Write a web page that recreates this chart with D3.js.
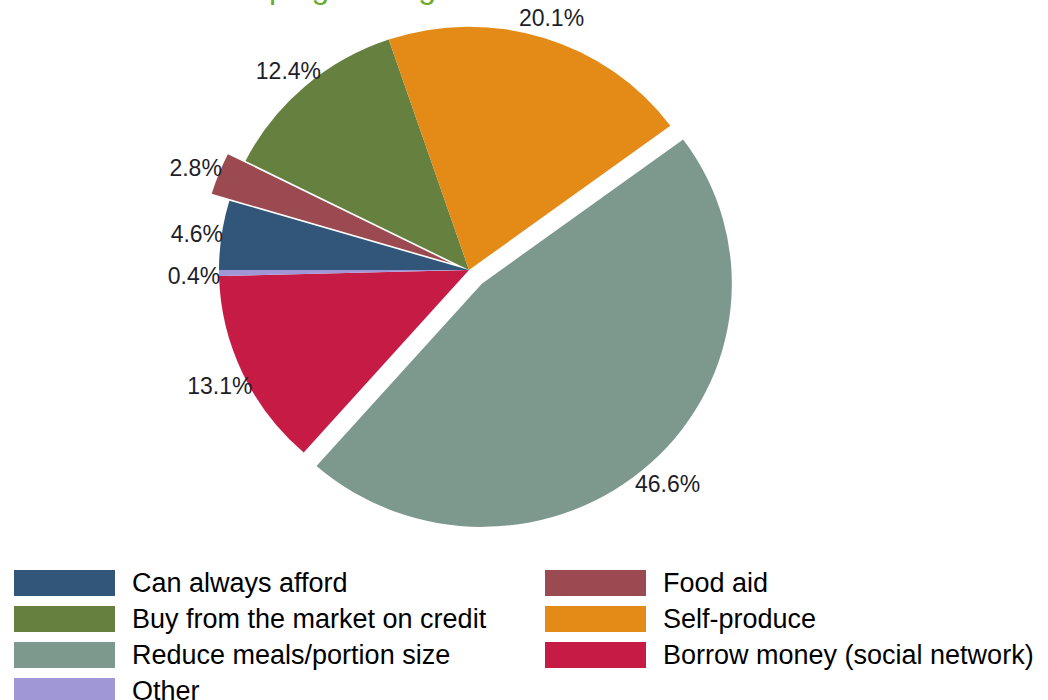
<!DOCTYPE html>
<html>
<head>
<meta charset="utf-8">
<script src="https://cdn.jsdelivr.net/npm/d3@7"></script>
<style>
  html, body { margin: 0; padding: 0; background: #fff; overflow: hidden; }
  svg { display: block; }
  text { font-family: Arial, "Liberation Sans", sans-serif; }
</style>
</head>
<body>
<svg id="chart" width="1048" height="700"></svg>
<script>
// ---- data ----
const categories = ["Can always afford", "Food aid", "Buy from the market on credit", "Self-produce",
                    "Reduce meals/portion size", "Borrow money (social network)", "Other"];
const shares = [4.6, 2.8, 12.4, 20.1, 46.6, 13.1, 0.4];
const exploded = ["Food aid", "Reduce meals/portion size"];
const colors = ["#31567a", "#9a4a50", "#65803f", "#e48a17", "#7d988c", "#c51b45", "#a097d6"];
const titleText = "Coping strategies";

// ---- layout ----
const W = 1048, H = 700;
const cx = 469, cy = 270;
const R = 250, kY = 0.973;     // slight vertical squash as in reference
const explodeDist = 19;
const labelR = 275;

const svg = d3.select("#chart");

// title (mostly cut off at top in the reference)
svg.append("text")
  .attr("x", 228).attr("y", -2)
  .attr("fill", "#6aaa2a")
  .attr("font-size", 32)
  .text(titleText);

const data = categories.map((c, i) => ({ name: c, value: shares[i], color: colors[i] }));
const pie = d3.pie().sort(null).value(d => d.value)
  .startAngle(-Math.PI / 2).endAngle(3 * Math.PI / 2);
const arcs = pie(data);
const arc = d3.arc().innerRadius(0).outerRadius(R);

const color = d3.scaleOrdinal().domain(categories).range(colors);

const gPie = svg.append("g").attr("transform", `translate(${cx},${cy}) scale(1,${kY})`);

function offset(d) {
  const mid = (d.startAngle + d.endAngle) / 2;
  const e = exploded.includes(d.data.name) ? explodeDist : 0;
  return [Math.sin(mid) * e, -Math.cos(mid) * e];
}

gPie.selectAll("path")
  .data(arcs)
  .join("path")
  .attr("d", arc)
  .attr("fill", d => color(d.data.name))
  .attr("transform", d => { const o = offset(d); return `translate(${o[0]},${o[1]})`; });

// labels
const fmt = d => d3.format(".1f")(d) + "%";
svg.append("g").selectAll("text")
  .data(arcs)
  .join("text")
  .attr("x", d => {
    const mid = (d.startAngle + d.endAngle) / 2;
    const e = exploded.includes(d.data.name) ? explodeDist : 0;
    return cx + Math.sin(mid) * (labelR + e);
  })
  .attr("y", d => {
    const mid = (d.startAngle + d.endAngle) / 2;
    const e = exploded.includes(d.data.name) ? explodeDist : 0;
    return cy - Math.cos(mid) * (labelR + e) * kY + 3;
  })
  .attr("text-anchor", "middle")
  .attr("dominant-baseline", "central")
  .attr("font-size", 23)
  .attr("fill", "#1e1e2a")
  .text(d => fmt(d.data.value));

// legend
const legCols = [14, 545];
const legRow0 = 583, legRowStep = 36;
const swW = 101, swH = 26;
const leg = svg.append("g").selectAll("g")
  .data(categories)
  .join("g")
  .attr("transform", (d, i) => `translate(${legCols[i % 2]},${legRow0 + Math.floor(i / 2) * legRowStep})`);
leg.append("rect")
  .attr("x", 0).attr("y", -swH / 2)
  .attr("width", swW).attr("height", swH)
  .attr("fill", d => color(d));
leg.append("text")
  .attr("x", 118).attr("y", 0)
  .attr("dominant-baseline", "central")
  .attr("font-size", 27)
  .attr("fill", "#000")
  .text(d => d);
</script>
</body>
</html>
